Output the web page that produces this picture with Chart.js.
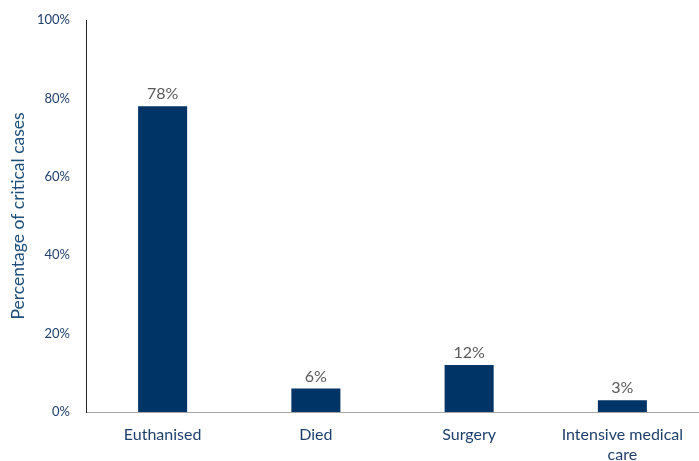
<!DOCTYPE html>
<html>
<head>
<meta charset="utf-8">
<script src="https://cdn.jsdelivr.net/npm/chart.js@4"></script>
<style>
  html, body { margin: 0; padding: 0; background: #fff; }
  #wrap { width: 699px; height: 461px; }
</style>
</head>
<body>
<div id="wrap"><canvas id="myChart"></canvas></div>
<script>
var categories = ['Euthanised', 'Died', 'Surgery', ['Intensive medical', 'care']];
var percentValues = [78, 6, 12, 3];
var yTicks = [0, 20, 40, 60, 80, 100];

// draws the value labels above each bar
var barLabels = {
    id: 'barLabels',
    afterDatasetsDraw: function(chart) {
        var ctx = chart.ctx;
        var meta = chart.getDatasetMeta(0);
        ctx.save();
        ctx.font = '16px Lato';
        ctx.fillStyle = '#595959';
        ctx.textAlign = 'center';
        ctx.textBaseline = 'bottom';
        meta.data.forEach(function(bar, i) {
            ctx.fillText(percentValues[i] + '%', bar.x, bar.y - 4);
        });
        ctx.restore();
    }
};

var ctx = document.getElementById('myChart').getContext('2d');
var chart = new Chart(ctx, {
    type: 'bar',
    data: {
        labels: categories,
        datasets: [{
            data: percentValues,
            backgroundColor: '#003366',
            categoryPercentage: 1,
            barPercentage: 0.32
        }]
    },
    options: {
        responsive: true,
        maintainAspectRatio: false,
        animation: false,
        layout: { padding: { top: 20, right: 0, left: 0, bottom: 0 } },
        plugins: {
            legend: { display: false },
            tooltip: { enabled: false }
        },
        scales: {
            x: {
                grid: { display: false, drawTicks: false },
                border: { color: '#A6A6A6', width: 1 },
                ticks: {
                    color: '#1F3F6B',
                    font: { family: 'Lato', size: 16, lineHeight: 1.25 },
                    padding: 13,
                    maxRotation: 0,
                    autoSkip: false
                },
                afterFit: function(scale) { scale.height = 49; }
            },
            y: {
                min: 0,
                max: 100,
                afterBuildTicks: function(scale) {
                    scale.ticks = yTicks.map(function(v) { return { value: v }; });
                },
                grid: { display: false, drawTicks: false },
                border: { color: '#262626', width: 1 },
                ticks: {
                    color: '#1F3F6B',
                    font: { family: 'Lato', size: 13, lineHeight: 0.8 },
                    padding: 16,
                    callback: function(v) { return v + '%'; }
                },
                title: {
                    display: true,
                    text: 'Percentage of critical cases',
                    color: '#1F4E79',
                    font: { family: 'Lato', size: 17.5 },
                    padding: { top: 8, bottom: 4 }
                },
                afterFit: function(scale) {
                    scale.width = 86;
                    scale.paddingTop = 0;
                    scale.paddingBottom = 0;
                }
            }
        }
    },
    plugins: [barLabels]
});
</script>
</body>
</html>
